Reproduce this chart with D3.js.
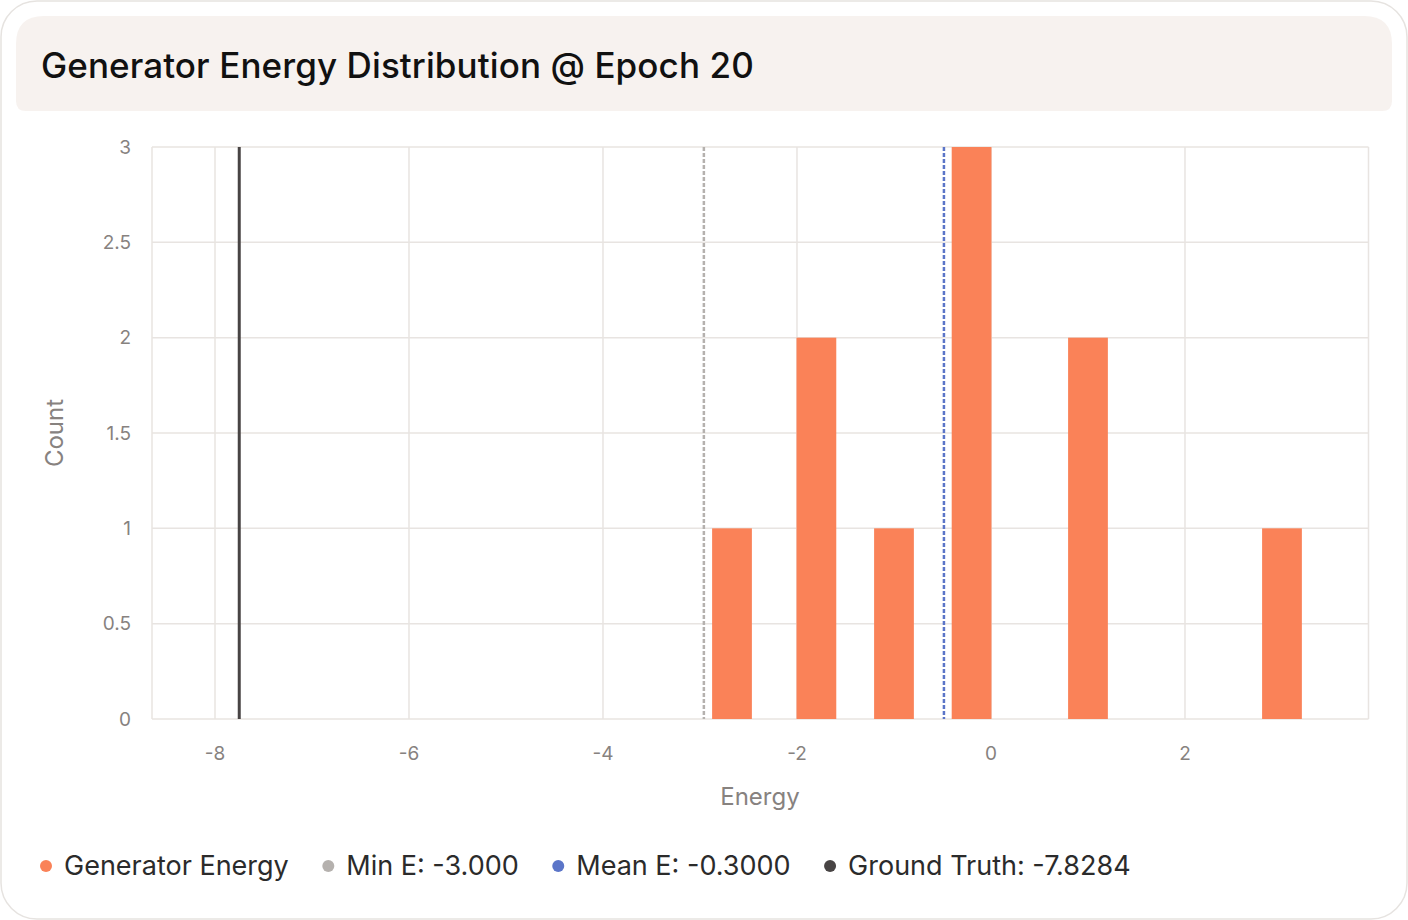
<!DOCTYPE html>
<html>
<head>
<meta charset="utf-8">
<script src="https://cdn.jsdelivr.net/npm/d3@7"></script>
<style>
  body { margin: 0; background: #fff; font-family: Inter, "Noto Sans", sans-serif; }
  svg { display: block; }
</style>
</head>
<body>
<div id="chart"></div>
<script>
// histogram bins (bin centre, count)
const binCenters = [-2.67, -1.8, -1.0, -0.2, 1.0, 3.0];
const binCounts = [1, 2, 1, 3, 2, 1];
const binWidth = 0.41;

const xTicks = [-8, -6, -4, -2, 0, 2];
const yTicks = [0, 0.5, 1, 1.5, 2, 2.5, 3];

// reference lines: where drawn on the axis, and legend value
const refNames = ["Min E", "Mean E", "Ground Truth"];
const refAt = [-2.96, -0.485, -7.75];
const refLabels = ["-3.000", "-0.3000", "-7.8284"];
const refColors = ["#b5b1ae", "#5b75c8", "#484444"];
const refDash = ["4,2", "4,2", null];

const barColor = "#fa8258";

const W = 1408, H = 920;
const plot = { left: 152, right: 1368.5, top: 147, bottom: 719 };

const svg = d3.select("#chart").append("svg")
    .attr("width", W)
    .attr("height", H);

// card
svg.append("rect")
    .attr("x", 1).attr("y", 1)
    .attr("width", W - 2).attr("height", H - 2)
    .attr("rx", 36)
    .attr("fill", "#fff")
    .attr("stroke", "#e6e3e0")
    .attr("stroke-width", 1.5);

// header with big top corners, small bottom corners
const hx0 = 16, hx1 = 1392, hy0 = 16, hy1 = 111, rt = 28, rb = 10;
svg.append("path")
    .attr("d", `M${hx0},${hy0 + rt} Q${hx0},${hy0} ${hx0 + rt},${hy0} L${hx1 - rt},${hy0} Q${hx1},${hy0} ${hx1},${hy0 + rt}
               L${hx1},${hy1 - rb} Q${hx1},${hy1} ${hx1 - rb},${hy1} L${hx0 + rb},${hy1} Q${hx0},${hy1} ${hx0},${hy1 - rb} Z`)
    .attr("fill", "#f7f2ef");

svg.append("text")
    .attr("x", 41).attr("y", 78)
    .attr("font-size", "35px")
    .attr("font-weight", 500)
    .attr("letter-spacing", "0.1px")
    .attr("fill", "#111")
    .text("Generator Energy Distribution @ Epoch 20");

const x = d3.scaleLinear()
    .domain([-8.6495, 3.892])
    .range([plot.left, plot.right]);

const y = d3.scaleLinear()
    .domain([0, 3])
    .range([plot.bottom, plot.top]);

const gridColor = "#e8e4e1";

// grid
const grid = svg.append("g");
grid.selectAll(".gy")
    .data(yTicks)
    .enter().append("line")
    .attr("x1", plot.left).attr("x2", plot.right)
    .attr("y1", d => y(d)).attr("y2", d => y(d))
    .attr("stroke", gridColor)
    .attr("stroke-width", 1.5);

grid.selectAll(".gx")
    .data(xTicks)
    .enter().append("line")
    .attr("x1", d => x(d)).attr("x2", d => x(d))
    .attr("y1", plot.top).attr("y2", plot.bottom)
    .attr("stroke", gridColor)
    .attr("stroke-width", 1.5);

// plot edges
grid.append("line")
    .attr("x1", plot.left).attr("x2", plot.left)
    .attr("y1", plot.top).attr("y2", plot.bottom)
    .attr("stroke", gridColor).attr("stroke-width", 1.5);
grid.append("line")
    .attr("x1", plot.right).attr("x2", plot.right)
    .attr("y1", plot.top).attr("y2", plot.bottom)
    .attr("stroke", gridColor).attr("stroke-width", 1.5);

// bars
svg.append("g")
    .selectAll("rect")
    .data(binCenters)
    .enter().append("rect")
    .attr("x", d => x(d - binWidth / 2))
    .attr("width", d => x(d + binWidth / 2) - x(d - binWidth / 2))
    .attr("y", (d, i) => y(binCounts[i]))
    .attr("height", (d, i) => y(0) - y(binCounts[i]))
    .attr("fill", barColor);

// reference lines
svg.append("g")
    .selectAll("line")
    .data(refAt)
    .enter().append("line")
    .attr("x1", d => x(d)).attr("x2", d => x(d))
    .attr("y1", plot.top).attr("y2", plot.bottom)
    .attr("stroke", (d, i) => refColors[i])
    .attr("stroke-width", (d, i) => refDash[i] ? 2.5 : 3)
    .attr("stroke-dasharray", (d, i) => refDash[i]);

// tick labels
const tickColor = "#87827f";
svg.append("g")
    .selectAll("text")
    .data(yTicks)
    .enter().append("text")
    .attr("x", 131)
    .attr("y", d => y(d))
    .attr("dy", "0.35em")
    .attr("text-anchor", "end")
    .attr("font-size", "19px")
    .attr("fill", tickColor)
    .text(d => d);

svg.append("g")
    .selectAll("text")
    .data(xTicks)
    .enter().append("text")
    .attr("x", d => x(d))
    .attr("y", 753)
    .attr("dy", "0.35em")
    .attr("text-anchor", "middle")
    .attr("font-size", "19px")
    .attr("fill", tickColor)
    .text(d => d);

// axis titles
svg.append("text")
    .attr("x", 760).attr("y", 805)
    .attr("text-anchor", "middle")
    .attr("font-size", "24px")
    .attr("fill", tickColor)
    .text("Energy");

svg.append("text")
    .attr("transform", "translate(63,433) rotate(-90)")
    .attr("text-anchor", "middle")
    .attr("font-size", "24px")
    .attr("fill", tickColor)
    .text("Count");

// legend
const legendItems = [{ text: "Generator Energy", color: barColor }]
    .concat(refNames.map((n, i) => ({ text: `${n}: ${refLabels[i]}`, color: refColors[i] })));

const legend = svg.append("g").attr("transform", "translate(46,866)");
let lx = 0;
legendItems.forEach(item => {
    const g = legend.append("g").attr("transform", `translate(${lx},0)`);
    g.append("circle").attr("r", 6).attr("fill", item.color);
    const t = g.append("text")
        .attr("x", 18)
        .attr("dy", "0.35em")
        .attr("font-size", "27px")
        .attr("fill", "#2b2b2b")
        .text(item.text);
    lx += 18 + t.node().getComputedTextLength() + 39.5;
});
</script>
</body>
</html>
